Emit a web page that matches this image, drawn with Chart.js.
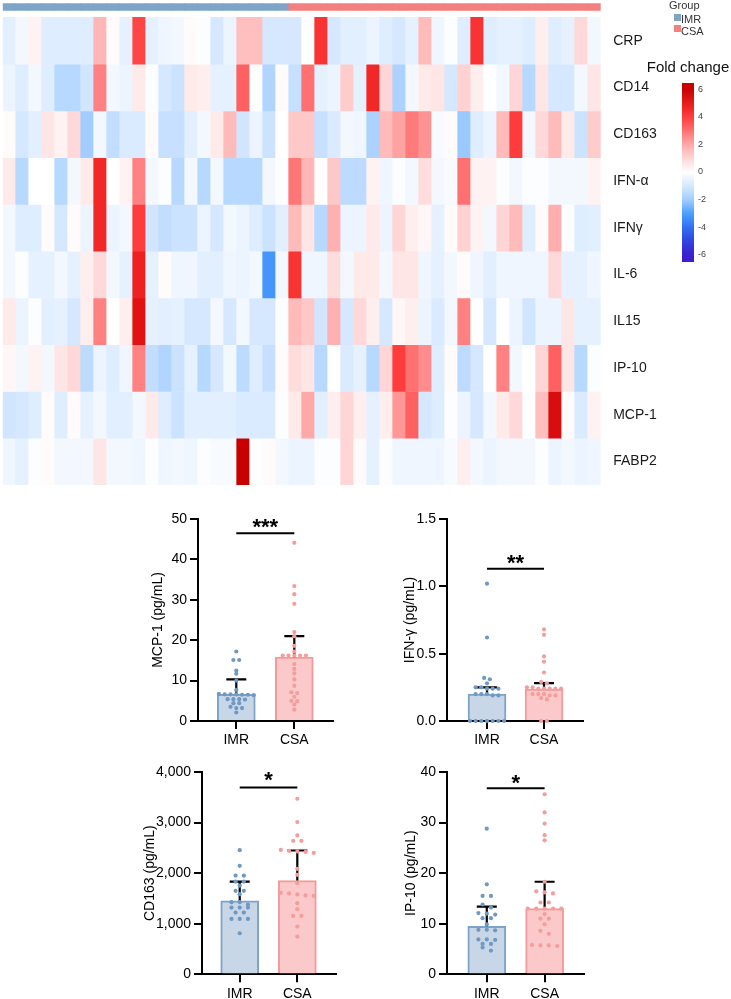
<!DOCTYPE html>
<html>
<head>
<meta charset="utf-8">
<script src="https://cdn.jsdelivr.net/npm/chart.js@4.4.1/dist/chart.umd.min.js"></script>
<style>
  body { margin: 0; background: #fff; }
  #wrap { position: relative; width: 731px; height: 999px; overflow: hidden; }
  canvas { position: absolute; }
</style>
</head>
<body>
<div id="wrap">
  <canvas id="heat" width="731" height="495" style="left:0;top:0"></canvas>
  <canvas id="mcp" width="200" height="260" style="left:140px;top:500px"></canvas>
  <canvas id="ifn" width="200" height="260" style="left:390px;top:500px"></canvas>
  <canvas id="cd163" width="200" height="249" style="left:140px;top:750px"></canvas>
  <canvas id="ip10" width="200" height="249" style="left:390px;top:750px"></canvas>
</div>
<script>
// heatmap rows (log fold change per sample)
var markers = ["CRP", "CD14", "CD163", "IFN-α", "IFNγ", "IL-6", "IL15", "IP-10", "MCP-1", "FABP2"];
var groupNames = ["IMR", "CSA"];
var sampleGroups = [
  "IMR","IMR","IMR","IMR","IMR","IMR","IMR","IMR","IMR","IMR","IMR",
  "IMR","IMR","IMR","IMR","IMR","IMR","IMR","IMR","IMR","IMR","IMR",
  "CSA","CSA","CSA","CSA","CSA","CSA","CSA","CSA","CSA","CSA","CSA","CSA",
  "CSA","CSA","CSA","CSA","CSA","CSA","CSA","CSA","CSA","CSA","CSA","CSA"
];

var crpFC = [-0.7,-0.3,0.3,-0.8,-0.8,-0.8,-0.8,1.7,0.1,-0.6,3.8,-0.6,-0.4,-0.3,0.1,-0.1,-1.0,-0.5,1.5,1.5,-1.0,-1.0,-1.0,0.0,
             4.3,-1.0,-0.7,-0.7,-0.5,-0.8,-1.0,-0.6,1.6,-0.4,-0.1,-0.8,4.3,-0.8,-0.6,-0.6,-0.8,0.4,-0.8,-0.6,0.9,-0.3];
var cd14FC = [-0.5,-0.8,-0.3,-0.8,-1.6,-1.6,-1.1,2.7,-0.3,-0.5,0.5,-0.1,-1.0,-1.2,0.5,0.4,-0.6,-0.6,3.3,0.0,-1.7,0.1,-1.3,3.0,
              -0.6,-0.5,1.2,-0.6,4.6,1.0,-1.8,-0.3,0.5,0.6,-1.0,1.1,0.4,0.0,-0.3,1.0,-1.6,0.6,-1.0,-1.0,-0.3,0.6];
var cd163FC = [0.1,-1.0,-0.7,0.6,0.3,0.9,-2.0,-0.3,-1.4,-0.9,-0.9,0.1,-1.3,-1.3,-0.7,-0.3,0.5,1.6,-1.1,-0.5,-1.2,0.0,1.3,1.3,
               -1.3,-0.9,-0.3,-0.4,-1.8,1.6,2.1,2.8,2.4,-0.2,0.1,-2.1,-0.8,-0.5,1.6,4.0,-0.3,0.9,1.6,0.5,-1.2,1.2];
var ifnaFC = [0.5,-1.6,0.0,0.0,-1.6,-0.3,0.5,4.6,0.0,0.3,2.7,-0.3,-0.1,-1.6,-0.3,-1.6,-0.3,-1.6,-1.6,-1.6,-0.3,-0.1,2.9,1.7,
              0.0,1.3,-1.5,-1.5,0.3,-0.4,-0.1,-0.3,0.8,-0.3,-0.2,3.0,0.3,0.3,-0.1,-0.3,-0.1,-0.1,-0.3,-0.3,-0.3,0.3];
var ifngFC = [-0.3,-0.8,-0.8,0.1,-1.0,0.1,-0.5,4.6,-0.5,-0.3,4.0,-1.1,-1.4,-1.2,-1.2,-0.5,-1.0,-0.3,-0.5,-0.8,-1.2,-0.7,1.6,0.6,
              -1.6,1.8,-0.5,-0.5,0.5,-0.5,1.0,0.4,0.2,-0.6,0.1,1.1,0.3,-0.3,1.0,1.6,-0.8,0.1,1.9,-0.1,-0.8,-0.7];
var il6FC = [-0.3,-0.1,-0.6,-0.6,-0.3,-0.6,0.4,0.9,-0.3,-0.6,4.8,-0.6,0.1,-0.4,-0.4,-0.7,-0.7,-0.4,-0.5,-0.3,-3.2,-0.3,4.3,-0.4,
             -0.4,0.8,-0.3,0.5,0.5,-0.3,0.6,0.6,-0.4,-0.6,-0.3,0.1,-0.4,-0.7,-0.4,-0.4,-0.4,-0.4,0.9,-0.6,-0.6,-0.4];
var il15FC = [0.5,-0.5,-0.1,-0.7,-0.6,-1.0,0.4,2.7,0.0,0.4,5.3,-0.6,-0.7,-0.6,-1.0,-1.0,-0.3,-1.0,-0.3,-1.0,-1.0,-0.1,1.6,1.3,
              -1.1,1.8,-1.0,0.9,0.4,-1.0,0.2,0.4,-0.5,-0.9,-0.3,2.7,0.0,-1.0,0.0,-0.5,-1.1,-0.5,-0.5,0.6,-0.6,-0.6];
var ip10FC = [0.2,-0.3,0.3,-0.3,0.6,0.9,-1.5,-0.5,-0.8,-0.4,2.7,-1.4,-1.7,-1.2,-0.6,-1.6,-1.0,-0.3,-1.5,-0.8,-1.3,0.1,0.8,0.6,
              -1.6,0.0,-0.9,-0.6,-1.6,1.0,4.0,3.0,2.5,-0.8,0.1,-1.5,-1.0,0.0,2.7,-0.3,0.0,1.0,3.3,0.6,-1.6,-0.1];
var mcp1FC = [-1.1,-1.0,-0.8,0.1,-0.8,0.1,-0.6,-0.3,-0.7,-0.7,-0.3,0.5,-0.8,-1.2,-0.7,-0.7,-0.7,-0.7,-0.9,-0.9,-0.9,-0.1,0.5,2.0,
              -0.7,0.4,1.0,0.4,-0.6,0.4,2.3,3.3,-1.0,-0.8,-0.1,-0.5,-1.0,-0.3,0.5,0.9,0.0,1.5,5.5,0.1,-0.9,0.3];
var fabp2FC = [-0.4,-0.6,-0.1,0.1,-0.3,-0.3,-0.3,0.6,-0.3,-0.3,-0.4,-0.1,-0.4,-0.3,-0.4,-0.1,-0.2,-0.2,6.0,-0.1,0.1,-0.3,-0.5,-0.5,
               -0.1,-0.1,1.0,0.1,-0.6,-0.1,-0.4,-0.4,-0.4,-0.4,-0.2,0.4,-0.3,-0.5,-0.3,-0.3,-0.3,-0.1,-0.5,-0.3,-0.5,-0.4];
var heatRows = [crpFC, cd14FC, cd163FC, ifnaFC, ifngFC, il6FC, il15FC, ip10FC, mcp1FC, fabp2FC];
var legendTicks = [6, 4, 2, 0, -2, -4, -6];

// scatter points per group (pg/mL)
var mcpIMR = [17.2, 15.1, 15.1, 12.5, 11.7, 10.0, 7.7, 6.7, 6.6, 6.6, 6.6, 6.5, 6.5, 6.4, 5.4, 5.4, 5.4, 5.3, 4.4, 4.4, 3.5, 3.2, 3.2, 2.1];
var mcpCSA = [44.1, 33.4, 31.4, 29.0, 22.0, 21.0, 18.6, 17.2, 16.2, 16.2, 16.2, 16.2, 16.2, 14.1, 12.9, 11.8, 10.3, 8.7, 7.1, 6.9, 6.0, 5.0, 4.9, 4.1, 2.8];
var mcpMean = [6.6, 15.8];
var mcpUpper = [10.3, 21.0];

var ifnIMR = [1.02, 0.62, 0.32, 0.31, 0.28, 0.25, 0.25, 0.24, 0.24, 0.24, 0.20, 0.20, 0.20, 0.19, 0.19, 0, 0, 0, 0, 0, 0, 0];
var ifnCSA = [0.68, 0.64, 0.48, 0.44, 0.36, 0.29, 0.28, 0.25, 0.25, 0.24, 0.24, 0.24, 0.24, 0.24, 0.20, 0.20, 0.20, 0.19, 0.19, 0.17, 0.16, 0, 0];
var ifnMean = [0.20, 0.237];
var ifnUpper = [0.249, 0.281];

var cd163IMR = [2455, 2145, 1953, 1950, 1834, 1834, 1755, 1650, 1650, 1584, 1426, 1426, 1380, 1320, 1320, 1320, 1220, 1220, 1095, 1095, 1095, 812];
var cd163CSA = [3471, 3010, 2745, 2640, 2640, 2460, 2440, 2430, 2420, 2400, 2085, 1966, 1802, 1610, 1600, 1580, 1560, 1550, 1406, 1287, 1155, 1155, 943, 745];
var cd163Mean = [1451, 1853];
var cd163Upper = [1834, 2448];

var ip10IMR = [28.8, 17.8, 15.5, 15.5, 13.8, 13.2, 12.1, 12.0, 11.8, 11.1, 11.1, 9.9, 8.8, 8.8, 8.7, 6.9, 6.9, 6.8, 6.0, 6.0, 5.3, 4.7];
var ip10CSA = [35.6, 32.0, 29.8, 27.5, 26.5, 18.3, 16.4, 16.2, 16.0, 14.2, 14.2, 13.0, 13.0, 13.0, 13.0, 13.0, 11.9, 11.0, 11.0, 9.9, 8.6, 8.0, 5.8, 5.7, 5.7, 5.6];
var ip10Mean = [9.5, 13.0];
var ip10Upper = [13.4, 18.3];

var FONT = "'Liberation Sans', Arial, Helvetica, sans-serif";
Chart.defaults.font.family = FONT;
Chart.defaults.color = "#000";

var groupColors = { IMR: "#7ea4c7", CSA: "#f47f7f" };
var posStops = ["#ffffff", "#ffd5d5", "#ffa8a8", "#ff7070", "#ff3c3c", "#ea1a1a", "#c80000"];
var negStops = ["#ffffff", "#d6e8ff", "#a3cdff", "#4aa0ff", "#3070f0", "#3045e0", "#3a1fd0"];

function hexRgb(h) {
  return [parseInt(h.substr(1, 2), 16), parseInt(h.substr(3, 2), 16), parseInt(h.substr(5, 2), 16)];
}
function colorFor(v) {
  var stops = v >= 0 ? posStops : negStops;
  var a = Math.min(Math.abs(v), 5.999);
  var i = Math.floor(a), f = a - i;
  var c0 = hexRgb(stops[i]), c1 = hexRgb(stops[i + 1]);
  var c = c0.map(function (x, k) { return Math.round(x + (c1[k] - x) * f); });
  return "rgb(" + c.join(",") + ")";
}

// ---------- heatmap ----------
var heatDatasets = [{
  data: sampleGroups.map(function () { return [-0.3, -0.15]; }),
  backgroundColor: sampleGroups.map(function (g) { return groupColors[g]; }),
  grouped: false, categoryPercentage: 1, barPercentage: 1, borderWidth: 0
}];
heatRows.forEach(function (row, i) {
  heatDatasets.push({
    data: row.map(function () { return [i, i + 1]; }),
    backgroundColor: row.map(colorFor),
    grouped: false, categoryPercentage: 1, barPercentage: 1, borderWidth: 0
  });
});

var heatLegend = {
  id: "heatLegend",
  afterDraw: function (chart) {
    var ctx = chart.ctx;
    ctx.save();
    ctx.textBaseline = "middle";
    ctx.textAlign = "left";
    ctx.font = "11px " + FONT;
    ctx.fillStyle = "#333";
    ctx.fillText("Group", 669, 6);
    groupNames.forEach(function (g, i) {
      ctx.fillStyle = groupColors[g];
      ctx.fillRect(674, 14 + i * 11, 7, 7);
      ctx.fillStyle = "#333";
      ctx.fillText(g, 681, 20 + i * 12);
    });
    ctx.font = "15px " + FONT;
    ctx.fillStyle = "#111";
    ctx.textAlign = "center";
    ctx.fillText("Fold change", 688, 68);
    var top = 83, bot = 262;
    var grad = ctx.createLinearGradient(0, top, 0, bot);
    for (var s = 0; s <= 40; s++) {
      var y = top + (bot - top) * s / 40;
      grad.addColorStop(s / 40, colorFor((172 - y) / 13.8));
    }
    ctx.fillStyle = grad;
    ctx.fillRect(682, top, 12, bot - top);
    ctx.font = "9px " + FONT;
    ctx.fillStyle = "#444";
    ctx.textAlign = "left";
    legendTicks.forEach(function (t) {
      ctx.fillText(String(t), 698, 172 - 13.8 * t);
    });
    ctx.restore();
  }
};

new Chart(document.getElementById("heat"), {
  type: "bar",
  data: { labels: sampleGroups.map(function (g, j) { return j + 1; }), datasets: heatDatasets },
  options: {
    responsive: false, animation: false, devicePixelRatio: 1,
    layout: { padding: { left: 2.7, top: 3.3, bottom: 10, right: 0 } },
    plugins: { legend: { display: false }, tooltip: { enabled: false } },
    scales: {
      x: { display: false },
      y: {
        position: "right", reverse: true, min: -0.3, max: 10,
        grid: { display: false, drawTicks: false }, border: { display: false },
        afterBuildTicks: function (s) { s.ticks = markers.map(function (m, i) { return { value: i + 0.5 }; }); },
        afterFit: function (s) { s.width = 130.3; s.paddingTop = 0; s.paddingBottom = 0; },
        ticks: { padding: 12.5, autoSkip: false, color: "#1a1a1a", font: { size: 14 },
          callback: function (v) { return markers[Math.floor(v)]; } }
      }
    }
  },
  plugins: [heatLegend]
});

// ---------- bar + dot panels ----------
function swarm(values, center, p) {
  var sorted = values.slice().sort(function (a, b) { return b - a; });
  var tol = p.yMax * 0.016, out = [], i = 0;
  while (i < sorted.length) {
    var j = i;
    while (j + 1 < sorted.length && sorted[i] - sorted[j + 1] <= tol) j++;
    var n = j - i + 1;
    for (var k = 0; k < n; k++) out.push({ x: center + (k - (n - 1) / 2) * p.spread, y: sorted[i + k] });
    i = j + 1;
  }
  return out;
}

function drawPanel(id, p) {
  var decor = {
    id: "decor",
    afterDatasetDraw: function (chart, args) {
      if (args.index !== 0) return;
      var ctx = chart.ctx, x = chart.scales.x, y = chart.scales.y;
      ctx.save();
      ctx.strokeStyle = "#000";
      ctx.lineWidth = 2.2;
      p.mean.forEach(function (m, i) {
        var px = x.getPixelForValue(i), top = y.getPixelForValue(p.upper[i]);
        ctx.beginPath();
        ctx.moveTo(px, y.getPixelForValue(m));
        ctx.lineTo(px, top);
        ctx.moveTo(px - 10, top);
        ctx.lineTo(px + 10, top);
        ctx.stroke();
      });
      ctx.restore();
    },
    afterDraw: function (chart) {
      var ctx = chart.ctx, x = chart.scales.x, y = chart.scales.y;
      ctx.save();
      ctx.strokeStyle = "#000";
      ctx.lineWidth = 2;
      var ly = y.getPixelForValue(p.sigY);
      ctx.beginPath();
      ctx.moveTo(x.getPixelForValue(0), ly);
      ctx.lineTo(x.getPixelForValue(1), ly);
      ctx.stroke();
      ctx.fillStyle = "#000";
      ctx.font = "bold 22px " + FONT;
      ctx.textAlign = "center";
      ctx.textBaseline = "alphabetic";
      ctx.fillText(p.stars, (x.getPixelForValue(0) + x.getPixelForValue(1)) / 2, y.getPixelForValue(p.starY) + 12.5);
      ctx.restore();
    }
  };

  new Chart(document.getElementById(id), {
    type: "bar",
    data: {
      datasets: [
        { type: "bar", order: 3,
          data: p.mean.map(function (m, i) { return { x: i, y: m }; }),
          backgroundColor: ["#c8d7e7", "#fbc9c9"], borderColor: ["#7ea3c8", "#f59a9a"],
          borderWidth: 2, barThickness: 38 },
        { type: "scatter", order: 1, clip: false, data: swarm(p.imr, 0, p),
          pointRadius: 2.1, pointBorderWidth: 0, pointBackgroundColor: "#6f98c3" },
        { type: "scatter", order: 2, clip: false, data: swarm(p.csa, 1, p),
          pointRadius: 2.1, pointBorderWidth: 0, pointBackgroundColor: "#f59c9c" }
      ]
    },
    options: {
      responsive: false, animation: false, devicePixelRatio: 1,
      layout: { padding: { top: p.padTop, right: p.padRight, left: 0, bottom: 0 } },
      plugins: { legend: { display: false }, tooltip: { enabled: false } },
      scales: {
        x: {
          type: "linear", min: p.xMin, max: p.xMax, offset: false,
          afterBuildTicks: function (s) { s.ticks = groupNames.map(function (g, i) { return { value: i }; }); },
          afterFit: function (s) { s.height = p.xHeight; },
          ticks: { padding: 3, font: { size: 14 }, color: "#000",
            callback: function (v) { return groupNames[v]; } },
          grid: { offset: false, drawOnChartArea: false, color: "#000", lineWidth: 2, tickLength: 8 },
          border: { color: "#000", width: 2 }
        },
        y: {
          min: 0, max: p.yMax,
          afterFit: function (s) { s.width = p.yWidth; },
          ticks: { stepSize: p.step, padding: 3, font: { size: 14 }, color: "#000", callback: p.fmt },
          grid: { drawOnChartArea: false, color: "#000", lineWidth: 2, tickLength: 8 },
          border: { color: "#000", width: 2 },
          title: { display: true, text: p.title, color: "#000", font: { size: 14 }, padding: { top: p.titlePad, bottom: 0 } }
        }
      }
    },
    plugins: [decor]
  });
}

drawPanel("mcp", {
  imr: mcpIMR, csa: mcpCSA, mean: mcpMean, upper: mcpUpper,
  yMax: 50, step: 10, fmt: function (v) { return v; }, title: "MCP-1 (pg/mL)",
  stars: "***", sigY: 46.5, starY: 49.4, spread: 0.1,
  xMin: -0.66, xMax: 1.667, yWidth: 58, padTop: 19, padRight: 7, xHeight: 39, titlePad: 9.6
});
drawPanel("ifn", {
  imr: ifnIMR, csa: ifnCSA, mean: ifnMean, upper: ifnUpper,
  yMax: 1.5, step: 0.5, fmt: function (v) { return v.toFixed(1); }, title: "IFN-γ (pg/mL)",
  stars: "**", sigY: 1.13, starY: 1.216, spread: 0.1,
  xMin: -0.702, xMax: 1.684, yWidth: 57, padTop: 19, padRight: 7, xHeight: 39, titlePad: 11.6
});
drawPanel("cd163", {
  imr: cd163IMR, csa: cd163CSA, mean: cd163Mean, upper: cd163Upper,
  yMax: 4000, step: 1000, fmt: function (v) { return v.toLocaleString("en-US"); }, title: "CD163 (pg/mL)",
  stars: "*", sigY: 3695, starY: 3946, spread: 0.143,
  xMin: -0.655, xMax: 1.672, yWidth: 62, padTop: 22, padRight: 2, xHeight: 24.7, titlePad: 1.6
});
drawPanel("ip10", {
  imr: ip10IMR, csa: ip10CSA, mean: ip10Mean, upper: ip10Upper,
  yMax: 40, step: 10, fmt: function (v) { return v; }, title: "IP-10 (pg/mL)",
  stars: "*", sigY: 36.8, starY: 39.0, spread: 0.145,
  xMin: -0.688, xMax: 1.681, yWidth: 57, padTop: 22, padRight: 6, xHeight: 24.7, titlePad: 12.6
});
</script>
</body>
</html>
